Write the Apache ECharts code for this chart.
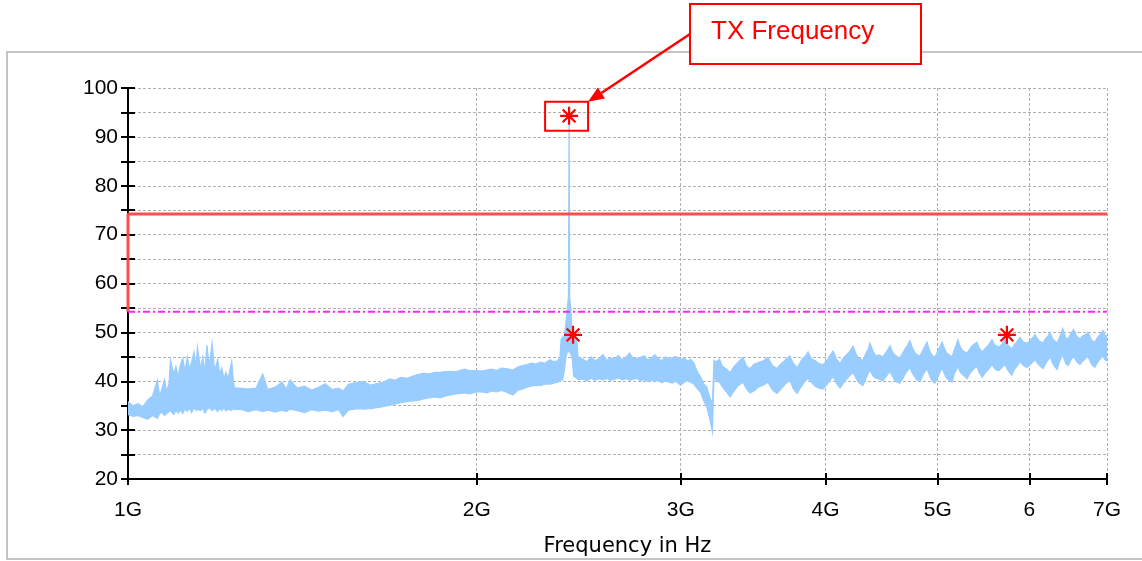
<!DOCTYPE html>
<html><head><meta charset="utf-8">
<script src="https://cdn.jsdelivr.net/npm/echarts@6/dist/echarts.min.js"></script>
<style>html,body{margin:0;padding:0;background:#fff}#c{width:1142px;height:561px}</style>
</head><body><div id="c"></div>
<script>
// ---- data (frequency in GHz, level in dB; band = upper / lower edge of the noisy trace) ----
const freqGHz = [
1.00,1.01,1.02,1.03,1.04,1.05,1.06,1.065,1.07,1.075,1.08,1.085,1.088,1.095,1.10,1.105,1.11,1.115,1.12,1.125,1.13,1.135,1.14,1.145,1.148,1.155,1.16,1.165,1.17,1.175,1.182,1.188,1.195,1.20,1.205,1.21,1.215,1.22,1.229,1.233,1.236,
1.25,1.27,1.29,1.307,1.32,1.34,1.358,1.37,1.38,1.40,1.42,1.44,1.46,1.48,1.50,1.52,1.533,1.55,1.577,1.596,1.62,1.64,1.66,1.683,1.70,1.72,1.74,1.76,1.78,1.80,1.82,1.84,1.86,1.88,1.90,1.92,1.953,1.97,2.00,
2.02,2.04,2.06,2.08,2.10,2.12,2.15,2.17,2.19,2.21,2.23,2.25,2.27,2.29,2.314,2.33,2.35,
2.36,2.365,2.372,2.38,2.388,2.395,2.40,2.403,2.406,2.412,2.418,2.425,2.433,2.44,2.446,
2.47,2.49,2.51,2.53,2.55,2.57,2.59,2.61,2.63,2.65,2.67,2.69,2.71,2.73,2.75,2.77,2.79,2.81,2.83,2.85,2.87,2.89,2.91,2.93,2.95,2.97,3.00,3.02,3.04,3.06,3.08,3.10,3.12,3.14,3.16,3.18,3.195,3.205,
3.22,3.24,3.26,3.285,3.31,3.335,3.36,3.395,3.42,3.443,3.47,3.50,3.535,3.567,3.60,3.633,3.655,3.68,3.70,3.727,
3.75,3.78,3.80,3.82,3.84,3.864,3.89,3.92,3.95,3.981,4.02,4.04,4.061,4.09,4.118,4.145,4.17,4.20,4.226,4.25,
4.27,4.309,4.34,4.355,4.37,4.40,4.42,4.45,4.484,4.52,4.548,4.57,4.59,4.615,4.638,4.67,4.69,4.71,4.732,4.755,
4.78,4.80,4.828,4.86,4.895,4.915,4.93,4.95,4.972,5.01,5.025,5.043,5.07,5.09,5.115,5.144,5.17,5.19,5.204,5.23,
5.25,5.275,5.30,5.33,5.35,5.375,5.404,5.43,5.462,5.49,5.52,5.545,5.569,5.60,5.626,5.65,5.67,5.69,5.715,5.75,
5.794,5.82,5.84,5.865,5.888,5.93,5.97,6.00,6.02,6.045,6.066,6.10,6.12,6.165,6.19,6.21,6.23,6.25,6.28,6.30,
6.34,6.37,6.39,6.41,6.45,6.48,6.51,6.55,6.59,6.634,6.66,6.69,6.715,6.741,6.79,6.834,6.86,6.89,6.92,6.944,6.97,7.00];
const levelHi = [
35.8,35.0,35.4,34.8,36.2,37.0,40.2,37.0,38.5,40.3,38.0,39.5,44.3,41.5,43.0,41.0,43.5,44.7,42.0,45.0,42.5,44.0,46.0,43.0,47.0,42.5,45.0,42.0,47.4,43.0,47.8,42.0,44.5,41.5,42.7,40.5,41.8,40.5,44.1,40.0,38.6,
38.6,38.4,38.6,41.5,38.3,38.8,39.8,38.4,40.3,38.6,39.0,38.2,38.7,39.5,38.3,38.6,38.0,39.4,39.8,40.0,39.2,39.5,39.8,40.5,40.2,40.8,40.6,41.0,41.4,41.6,41.5,41.8,41.8,42.0,42.0,42.0,42.5,42.2,42.2,
42.1,42.3,42.5,42.2,42.7,42.6,42.3,42.9,43.2,43.4,43.7,43.5,43.9,43.7,44.4,44.0,44.2,
45.0,48.5,49.0,49.2,52.0,55.0,57.5,94.3,57.0,54.5,49.0,49.2,49.0,48.5,45.0,
44.5,44.0,45.0,44.2,44.6,45.5,44.3,44.8,44.5,45.3,44.4,44.9,45.8,44.6,44.7,44.9,45.2,44.3,44.8,45.4,44.6,44.2,45.0,44.5,44.8,45.1,44.4,44.8,44.1,44.5,43.7,42.0,40.9,39.5,38.8,36.5,35.5,44.3,
44.0,44.5,43.0,42.5,41.8,43.0,43.8,44.9,43.0,42.6,43.5,43.8,44.2,44.9,43.2,42.6,43.4,44.0,44.6,45.2,
43.8,42.8,43.6,44.6,45.0,46.0,44.6,44.2,43.6,43.4,44.6,45.4,46.2,44.5,43.6,44.8,45.4,46.2,47.2,45.6,
44.8,44.3,46.0,46.6,47.8,46.0,45.2,45.4,45.0,46.2,47.3,46.0,45.4,45.0,44.8,46.0,46.8,47.4,48.3,46.8,
45.8,45.4,45.2,46.6,48.0,46.6,45.8,45.2,44.9,46.6,47.2,48.0,46.6,45.8,45.4,45.0,46.6,47.6,48.5,47.0,
46.4,46.0,45.8,46.6,47.2,47.6,48.0,46.8,46.0,46.6,47.2,47.8,48.5,47.4,47.2,47.0,47.4,47.8,48.6,47.4,
46.6,47.4,47.8,48.4,49.0,48.0,47.8,48.2,48.6,49.0,49.6,48.6,48.2,47.8,48.6,49.0,49.4,50.0,48.8,48.4,
47.8,49.0,49.8,50.8,48.8,48.8,49.6,50.6,49.2,48.6,49.2,49.4,49.6,50.0,48.4,48.0,48.8,49.4,49.8,50.4,49.4,49.4];
const levelLo = [
33.2,32.8,33.0,32.6,32.2,33.0,32.4,33.4,33.6,33.0,33.4,33.8,34.0,33.2,34.0,33.5,34.2,33.4,34.4,33.8,34.5,33.6,34.6,34.0,34.3,34.0,34.5,33.5,34.2,34.6,34.0,34.5,33.8,34.4,34.0,34.6,33.9,34.3,34.0,34.5,34.2,
34.3,33.8,34.2,33.8,34.1,33.7,34.1,33.8,34.3,34.0,33.6,34.2,33.9,34.1,33.8,34.2,32.8,34.1,34.4,34.3,34.4,34.6,34.8,35.1,35.3,35.6,35.8,36.0,36.1,36.4,36.6,36.8,36.6,37.0,37.2,37.4,37.6,37.4,37.8,
37.8,37.6,38.0,37.8,38.1,37.8,37.2,38.2,38.4,38.8,39.0,39.2,39.1,39.4,39.4,39.6,39.8,
40.0,40.3,40.3,42.0,45.0,46.0,46.0,47.0,46.0,45.5,44.5,41.0,40.8,40.6,40.4,
40.4,40.1,40.6,40.2,40.5,40.3,40.6,40.2,40.4,40.7,40.3,40.5,40.2,40.4,40.6,40.1,40.3,40.0,40.2,39.9,40.3,39.7,40.1,39.8,39.6,40.0,39.2,39.8,40.1,39.8,39.4,38.5,37.8,36.0,34.7,32.0,29.6,41.0,
40.0,39.8,38.8,37.8,36.8,38.0,39.0,39.8,38.4,37.6,38.0,38.8,39.2,39.8,38.2,37.5,38.2,39.0,39.6,40.2,
38.6,37.5,38.4,39.2,40.0,40.6,39.8,39.0,38.6,38.4,39.6,40.3,41.0,39.5,38.6,39.6,40.4,41.2,41.8,40.6,
39.8,39.1,40.8,41.6,42.2,41.0,40.6,40.4,40.1,41.2,42.0,41.0,40.2,39.8,39.6,40.8,41.6,42.2,42.8,41.6,
40.8,40.2,40.0,41.5,42.6,41.4,40.6,40.0,39.6,41.2,42.0,42.6,41.4,40.6,40.2,39.8,41.6,42.4,43.0,41.8,
41.4,41.0,40.5,41.6,42.0,42.6,43.0,41.8,40.8,41.6,42.2,42.8,43.4,42.6,42.2,42.2,42.6,43.0,43.4,42.2,
41.2,42.4,42.8,43.4,44.0,43.2,42.8,43.2,43.6,44.0,44.4,43.6,43.2,42.6,43.4,44.0,44.4,45.0,43.8,43.2,
42.4,44.0,44.8,45.4,43.6,43.2,44.2,45.2,44.0,43.4,44.0,44.4,44.8,45.0,43.4,42.9,43.6,44.2,44.8,45.2,44.4,44.2];
const tickGHz = [1, 2, 3, 4, 5, 6, 7];
const tickLabels = ['1G', '2G', '3G', '4G', '5G', '6', '7G'];
const limitFreqGHz = [1, 1, 7];
const limitLevel = [54.2, 74.2, 74.2];
const displayFreqGHz = [1, 7];
const displayLevel = [54.2, 54.2];
const markerFreqGHz = [2.403, 2.422, 5.737];
const markerLevel = [94.3, 49.5, 49.5];
const annotationText = 'TX Frequency';
const xAxisTitle = 'Frequency in Hz';

// ---- chart ----
const GHz = 1e9;
const tickFont = 'Liberation Sans';
const xTickVals = tickGHz.map(v => v * GHz);
function xLabel(v) {
  const g = Math.round(v / GHz * 1000) / 1000;
  const i = tickGHz.indexOf(g);
  return i >= 0 ? tickLabels[i] : '';
}
const nBand = Math.min(freqGHz.length, levelHi.length, levelLo.length);
const bandData = freqGHz.slice(0, nBand).map((f, i) => [f * GHz, levelHi[i], levelLo[i]]);
const asterisk = 'path://M0,-10L0,10M-10,0L10,0M-7.07,-7.07L7.07,7.07M-7.07,7.07L7.07,-7.07';
const gridColor = '#b0b0b0';

const chart = echarts.init(document.getElementById('c'));
const xBase = {type: 'log', logBase: 10, min: 1 * GHz, max: 7 * GHz, gridIndex: 0, position: 'bottom'};
const yBase = {type: 'value', min: 20, max: 100, interval: 5, gridIndex: 0, position: 'left'};
chart.setOption({
  animation: false,
  backgroundColor: '#fff',
  grid: {left: 128, right: 35, top: 88, bottom: 82, show: false, containLabel: false, outerBoundsMode: 'none'},
  xAxis: [
    Object.assign({}, xBase, {
      name: xAxisTitle, nameLocation: 'middle', nameGap: 57,
      nameTextStyle: {fontFamily: 'DejaVu Sans', fontSize: 21, color: '#000', padding: [0, 0, 0, 20]},
      axisLine: {show: true, onZero: false, lineStyle: {color: '#000', width: 2}},
      axisTick: {show: true, length: 6, customValues: xTickVals, lineStyle: {color: '#000', width: 2}},
      axisLabel: {customValues: xTickVals, formatter: xLabel, margin: 21, fontFamily: tickFont, fontSize: 21, color: '#000'},
      splitLine: {show: true, lineStyle: {color: gridColor, type: [3, 2], width: 1}},
      minorTick: {show: false}, minorSplitLine: {show: false}
    }),
    Object.assign({}, xBase, {
      axisLine: {show: false},
      axisTick: {show: true, inside: true, length: 6, customValues: xTickVals, lineStyle: {color: '#000', width: 2}},
      axisLabel: {show: false, customValues: xTickVals},
      splitLine: {show: false}
    })
  ],
  yAxis: [
    Object.assign({}, yBase, {
      axisLine: {show: true, onZero: false, lineStyle: {color: '#000', width: 2}},
      axisTick: {show: true, length: 7, lineStyle: {color: '#000', width: 2}},
      axisLabel: {formatter: v => (v % 10 === 0 ? String(v) : ''), margin: 10, fontFamily: tickFont, fontSize: 21, color: '#000'},
      splitLine: {show: true, lineStyle: {color: gridColor, type: [3, 2], width: 1}}
    }),
    Object.assign({}, yBase, {
      axisLine: {show: false},
      axisTick: {show: true, inside: true, length: 7, lineStyle: {color: '#000', width: 2}},
      axisLabel: {show: false},
      splitLine: {show: false}
    })
  ],
  series: [
    {
      type: 'custom', xAxisIndex: 0, yAxisIndex: 0, clip: true, z: 2,
      data: bandData, encode: {x: 0, y: [1, 2]},
      renderItem: function (params, api) {
        if (params.dataIndexInside !== 0) return;
        const n = params.dataInsideLength;
        const top = [], bot = [];
        for (let j = 0; j < n; j++) {
          const f = api.value(0, j);
          top.push(api.coord([f, api.value(1, j)]));
          bot.push(api.coord([f, api.value(2, j)]));
        }
        return {type: 'polygon', shape: {points: top.concat(bot.reverse())},
          style: {fill: '#99ccff', stroke: '#99ccff', lineWidth: 1.2, lineJoin: 'miter'}};
      }
    },
    {
      type: 'line', z: 3, symbol: 'none',
      data: displayFreqGHz.map((f, i) => [f * GHz, displayLevel[i]]),
      lineStyle: {color: '#ff22ff', width: 2, type: [7, 3, 2, 3]}
    },
    {
      type: 'line', z: 4, symbol: 'none',
      data: limitFreqGHz.map((f, i) => [f * GHz, limitLevel[i]]),
      lineStyle: {color: '#ff4d4d', width: 3}
    },
    {
      type: 'scatter', z: 5, symbol: asterisk, symbolSize: 18, symbolKeepAspect: true,
      data: markerFreqGHz.map((f, i) => [f * GHz, markerLevel[i]]),
      itemStyle: {color: 'rgba(0,0,0,0)', borderColor: '#ff0000', borderWidth: 2.2, opacity: 1}
    }
  ]
});

// ---- annotations ----
const star = chart.convertToPixel({gridIndex: 0}, [markerFreqGHz[0] * GHz, markerLevel[0]]);
const boxL = star[0] - 24, boxT = star[1] - 14, boxW = 43, boxH = 29;
const tip = [boxL + boxW, boxT];
const start = [690, 34];
const dx = tip[0] - start[0], dy = tip[1] - start[1];
const len = Math.sqrt(dx * dx + dy * dy);
const ux = dx / len, uy = dy / len;
const aL = 16, aW = 6.5;
const base = [tip[0] - ux * aL, tip[1] - uy * aL];
chart.setOption({
  graphic: [
    {type: 'rect', silent: true, z: 0, shape: {x: 7, y: 52, width: 1150, height: 507},
      style: {fill: 'none', stroke: '#c4c4c4', lineWidth: 2}},
    {type: 'rect', silent: true, z: 10, shape: {x: boxL, y: boxT, width: boxW, height: boxH},
      style: {fill: 'none', stroke: '#ff0000', lineWidth: 2}},
    {type: 'line', silent: true, z: 10, shape: {x1: start[0], y1: start[1], x2: base[0], y2: base[1]},
      style: {stroke: '#ff0000', lineWidth: 2.5}},
    {type: 'polygon', silent: true, z: 10, shape: {points: [tip,
      [base[0] - uy * aW, base[1] + ux * aW], [base[0] + uy * aW, base[1] - ux * aW]]},
      style: {fill: '#ff0000'}},
    {type: 'rect', silent: true, z: 10, shape: {x: 690, y: 4, width: 231, height: 60},
      style: {fill: '#fff', stroke: '#ff0000', lineWidth: 2}},
    {type: 'text', silent: true, z: 11, x: 711, y: 32,
      style: {text: annotationText, fill: '#ff0000', font: '26px "Liberation Sans"', textVerticalAlign: 'middle'}}
  ]
});
</script>
</body></html>
